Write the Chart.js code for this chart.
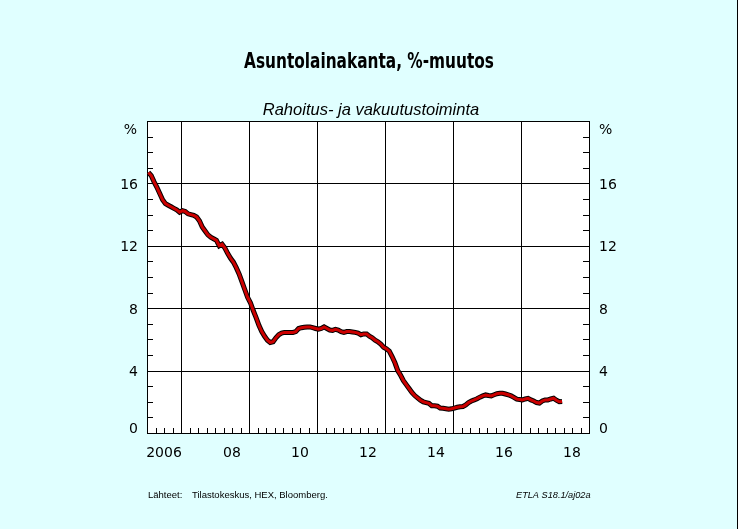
<!DOCTYPE html>
<html>
<head>
<meta charset="utf-8">
<script src="https://cdn.jsdelivr.net/npm/chart.js@4/dist/chart.umd.min.js"></script>
<style>
  html, body { margin: 0; padding: 0; background: #ffffff; }
  canvas { display: block; }
</style>
</head>
<body>
<canvas id="chart" width="748" height="529"></canvas>
<script>
// Asuntolainakanta, %-muutos -- monthly values, Jan 2006 .. Mar 2018
const v2006 = [16.7, 16.5, 16.1, 15.75, 15.35, 14.95, 14.7, 14.6, 14.5, 14.4, 14.3, 14.15];
const v2007 = [14.25, 14.2, 14.05, 14.0, 13.95, 13.85, 13.6, 13.2, 12.95, 12.7, 12.55, 12.45];
const v2008 = [12.35, 12.0, 12.1, 11.85, 11.5, 11.2, 10.95, 10.6, 10.2, 9.7, 9.2, 8.7];
const v2009 = [8.35, 7.85, 7.4, 6.9, 6.5, 6.2, 5.95, 5.8, 5.85, 6.1, 6.3, 6.4];
const v2010 = [6.45, 6.45, 6.45, 6.45, 6.5, 6.7, 6.75, 6.78, 6.8, 6.8, 6.75, 6.7];
const v2011 = [6.65, 6.7, 6.8, 6.7, 6.6, 6.58, 6.65, 6.6, 6.5, 6.45, 6.5, 6.5];
const v2012 = [6.48, 6.45, 6.4, 6.3, 6.35, 6.35, 6.2, 6.1, 5.95, 5.85, 5.7, 5.5];
const v2013 = [5.4, 5.25, 4.9, 4.5, 4.0, 3.7, 3.35, 3.1, 2.85, 2.6, 2.4, 2.25];
const v2014 = [2.1, 2.0, 1.95, 1.9, 1.75, 1.75, 1.72, 1.6, 1.58, 1.55, 1.52, 1.55];
const v2015 = [1.6, 1.65, 1.68, 1.7, 1.8, 1.95, 2.05, 2.12, 2.2, 2.3, 2.38, 2.44];
const v2016 = [2.4, 2.38, 2.45, 2.52, 2.55, 2.55, 2.5, 2.45, 2.38, 2.28, 2.17, 2.15];
const v2017 = [2.12, 2.18, 2.22, 2.12, 2.05, 1.95, 1.92, 2.05, 2.12, 2.12, 2.18, 2.23];
const v2018 = [2.1, 2.0, 2.02];

const years = [2006, 2007, 2008, 2009, 2010, 2011, 2012, 2013, 2014, 2015, 2016, 2017, 2018];
const yearValues = [v2006, v2007, v2008, v2009, v2010, v2011, v2012, v2013, v2014, v2015, v2016, v2017, v2018];

// axis labelling
const xLabelYears = [2006, 2008, 2010, 2012, 2014, 2016, 2018];
const xLabels = ['2006', '08', '10', '12', '14', '16', '18'];
const xGridYears = [2007, 2009, 2011, 2013, 2015, 2017];
const yTicks = [0, 4, 8, 12, 16];
const yLabels = ['0', '4', '8', '12', '16'];

const title = 'Asuntolainakanta, %-muutos';
const subtitle = 'Rahoitus- ja vakuutustoiminta';
const sourceLabel = 'Lähteet:';
const sourceText = 'Tilastokeskus, HEX, Bloomberg.';
const codeText = 'ETLA S18.1/aj02a';

// month m of year y sits in the middle of that month
const points = [];
years.forEach((y, i) => {
  yearValues[i].forEach((v, m) => points.push({ x: y + (m + 0.5) / 12, y: v }));
});

const frame = {
  id: 'frame',
  beforeDraw(chart) {
    const ctx = chart.ctx;
    const a = chart.chartArea;
    ctx.save();
    ctx.fillStyle = '#e0ffff';
    ctx.fillRect(0, 0, 737, chart.height);
    ctx.fillStyle = '#000';
    ctx.fillRect(737, 0, 1, chart.height);
    ctx.fillStyle = '#ffffff';
    ctx.fillRect(a.left, a.top, a.right - a.left, a.bottom - a.top);
    ctx.restore();
  },
  beforeDatasetsDraw(chart) {
    const ctx = chart.ctx;
    const a = chart.chartArea;
    const xs = chart.scales.x, ys = chart.scales.y;
    ctx.save();
    ctx.strokeStyle = '#000';
    ctx.lineWidth = 1;
    ctx.beginPath();
    // grid
    xGridYears.forEach(yr => {
      const px = Math.round(xs.getPixelForValue(yr)) + 0.5;
      ctx.moveTo(px, a.top); ctx.lineTo(px, a.bottom);
    });
    yTicks.forEach(v => {
      if (v === ys.min) return;
      const py = Math.round(ys.getPixelForValue(v)) + 0.5;
      ctx.moveTo(a.left, py); ctx.lineTo(a.right, py);
    });
    // minor ticks: every 1 %-unit on both sides, every quarter on the bottom
    for (let v = ys.min + 1; v < ys.max; v++) {
      const py = Math.round(ys.getPixelForValue(v)) + 0.5;
      ctx.moveTo(a.left, py); ctx.lineTo(a.left + 6, py);
      ctx.moveTo(a.right - 6, py); ctx.lineTo(a.right, py);
    }
    for (let q = xs.min * 4 + 1; q < xs.max * 4; q++) {
      const px = Math.round(xs.getPixelForValue(q / 4)) + 0.5;
      ctx.moveTo(px, a.bottom); ctx.lineTo(px, a.bottom - 5);
    }
    ctx.stroke();
    ctx.strokeRect(Math.round(a.left) + 0.5, Math.round(a.top) + 0.5,
                   Math.round(a.right - a.left), Math.round(a.bottom - a.top));
    ctx.restore();
  },
  afterDraw(chart) {
    const ctx = chart.ctx;
    const a = chart.chartArea;
    const xs = chart.scales.x, ys = chart.scales.y;
    ctx.save();
    ctx.fillStyle = '#000';
    ctx.textBaseline = 'alphabetic';

    // title, squeezed to the reference width if the narrow face is missing
    ctx.font = "bold 22px 'Liberation Sans Narrow', 'DejaVu Sans Condensed', sans-serif";
    ctx.textAlign = 'center';
    const tw = ctx.measureText(title).width;
    ctx.save();
    ctx.translate(369, 68);
    ctx.scale(Math.min(1, 250 / tw), 1);
    ctx.fillText(title, 0, 0);
    ctx.restore();

    ctx.font = "italic 16.5px 'Liberation Sans', sans-serif";
    ctx.fillText(subtitle, 371, 115);

    // y labels both sides
    ctx.font = "14px 'DejaVu Sans', sans-serif";
    yTicks.forEach((v, i) => {
      const py = v === 0 ? a.bottom : ys.getPixelForValue(v) + 5.5;
      ctx.textAlign = 'right';
      ctx.fillText(yLabels[i], a.left - 9, py);
      ctx.textAlign = 'left';
      ctx.fillText(yLabels[i], a.right + 10, py);
    });
    ctx.textAlign = 'right';
    ctx.fillText('%', a.left - 10, a.top + 13);
    ctx.textAlign = 'left';
    ctx.fillText('%', a.right + 10, a.top + 13);

    // x labels, centred in each labelled year
    ctx.textAlign = 'center';
    xLabelYears.forEach((yr, i) => {
      ctx.fillText(xLabels[i], xs.getPixelForValue(yr + 0.5), a.bottom + 24);
    });

    // footer
    ctx.font = "9.5px 'Liberation Sans', sans-serif";
    ctx.textAlign = 'left';
    ctx.fillText(sourceLabel, 148, 498);
    ctx.fillText(sourceText, 192, 498);
    ctx.font = "italic 9.2px 'Liberation Sans', sans-serif";
    ctx.fillText(codeText, 516, 498);
    ctx.restore();
  }
};

// datasets are painted last-to-first, so the red core goes first
new Chart(document.getElementById('chart'), {
  type: 'line',
  data: {
    datasets: [
      { data: points, borderColor: '#cc0000', borderWidth: 3, pointRadius: 0, tension: 0 },
      { data: points, borderColor: '#000000', borderWidth: 5, pointRadius: 0, tension: 0 }
    ]
  },
  options: {
    responsive: false,
    animation: false,
    layout: { padding: { left: 147, right: 159, top: 121, bottom: 96 } },
    plugins: { legend: { display: false }, tooltip: { enabled: false } },
    scales: {
      x: { type: 'linear', min: 2006, max: 2019, display: false },
      y: { min: 0, max: 20, display: false }
    }
  },
  plugins: [frame]
});
</script>
</body>
</html>
